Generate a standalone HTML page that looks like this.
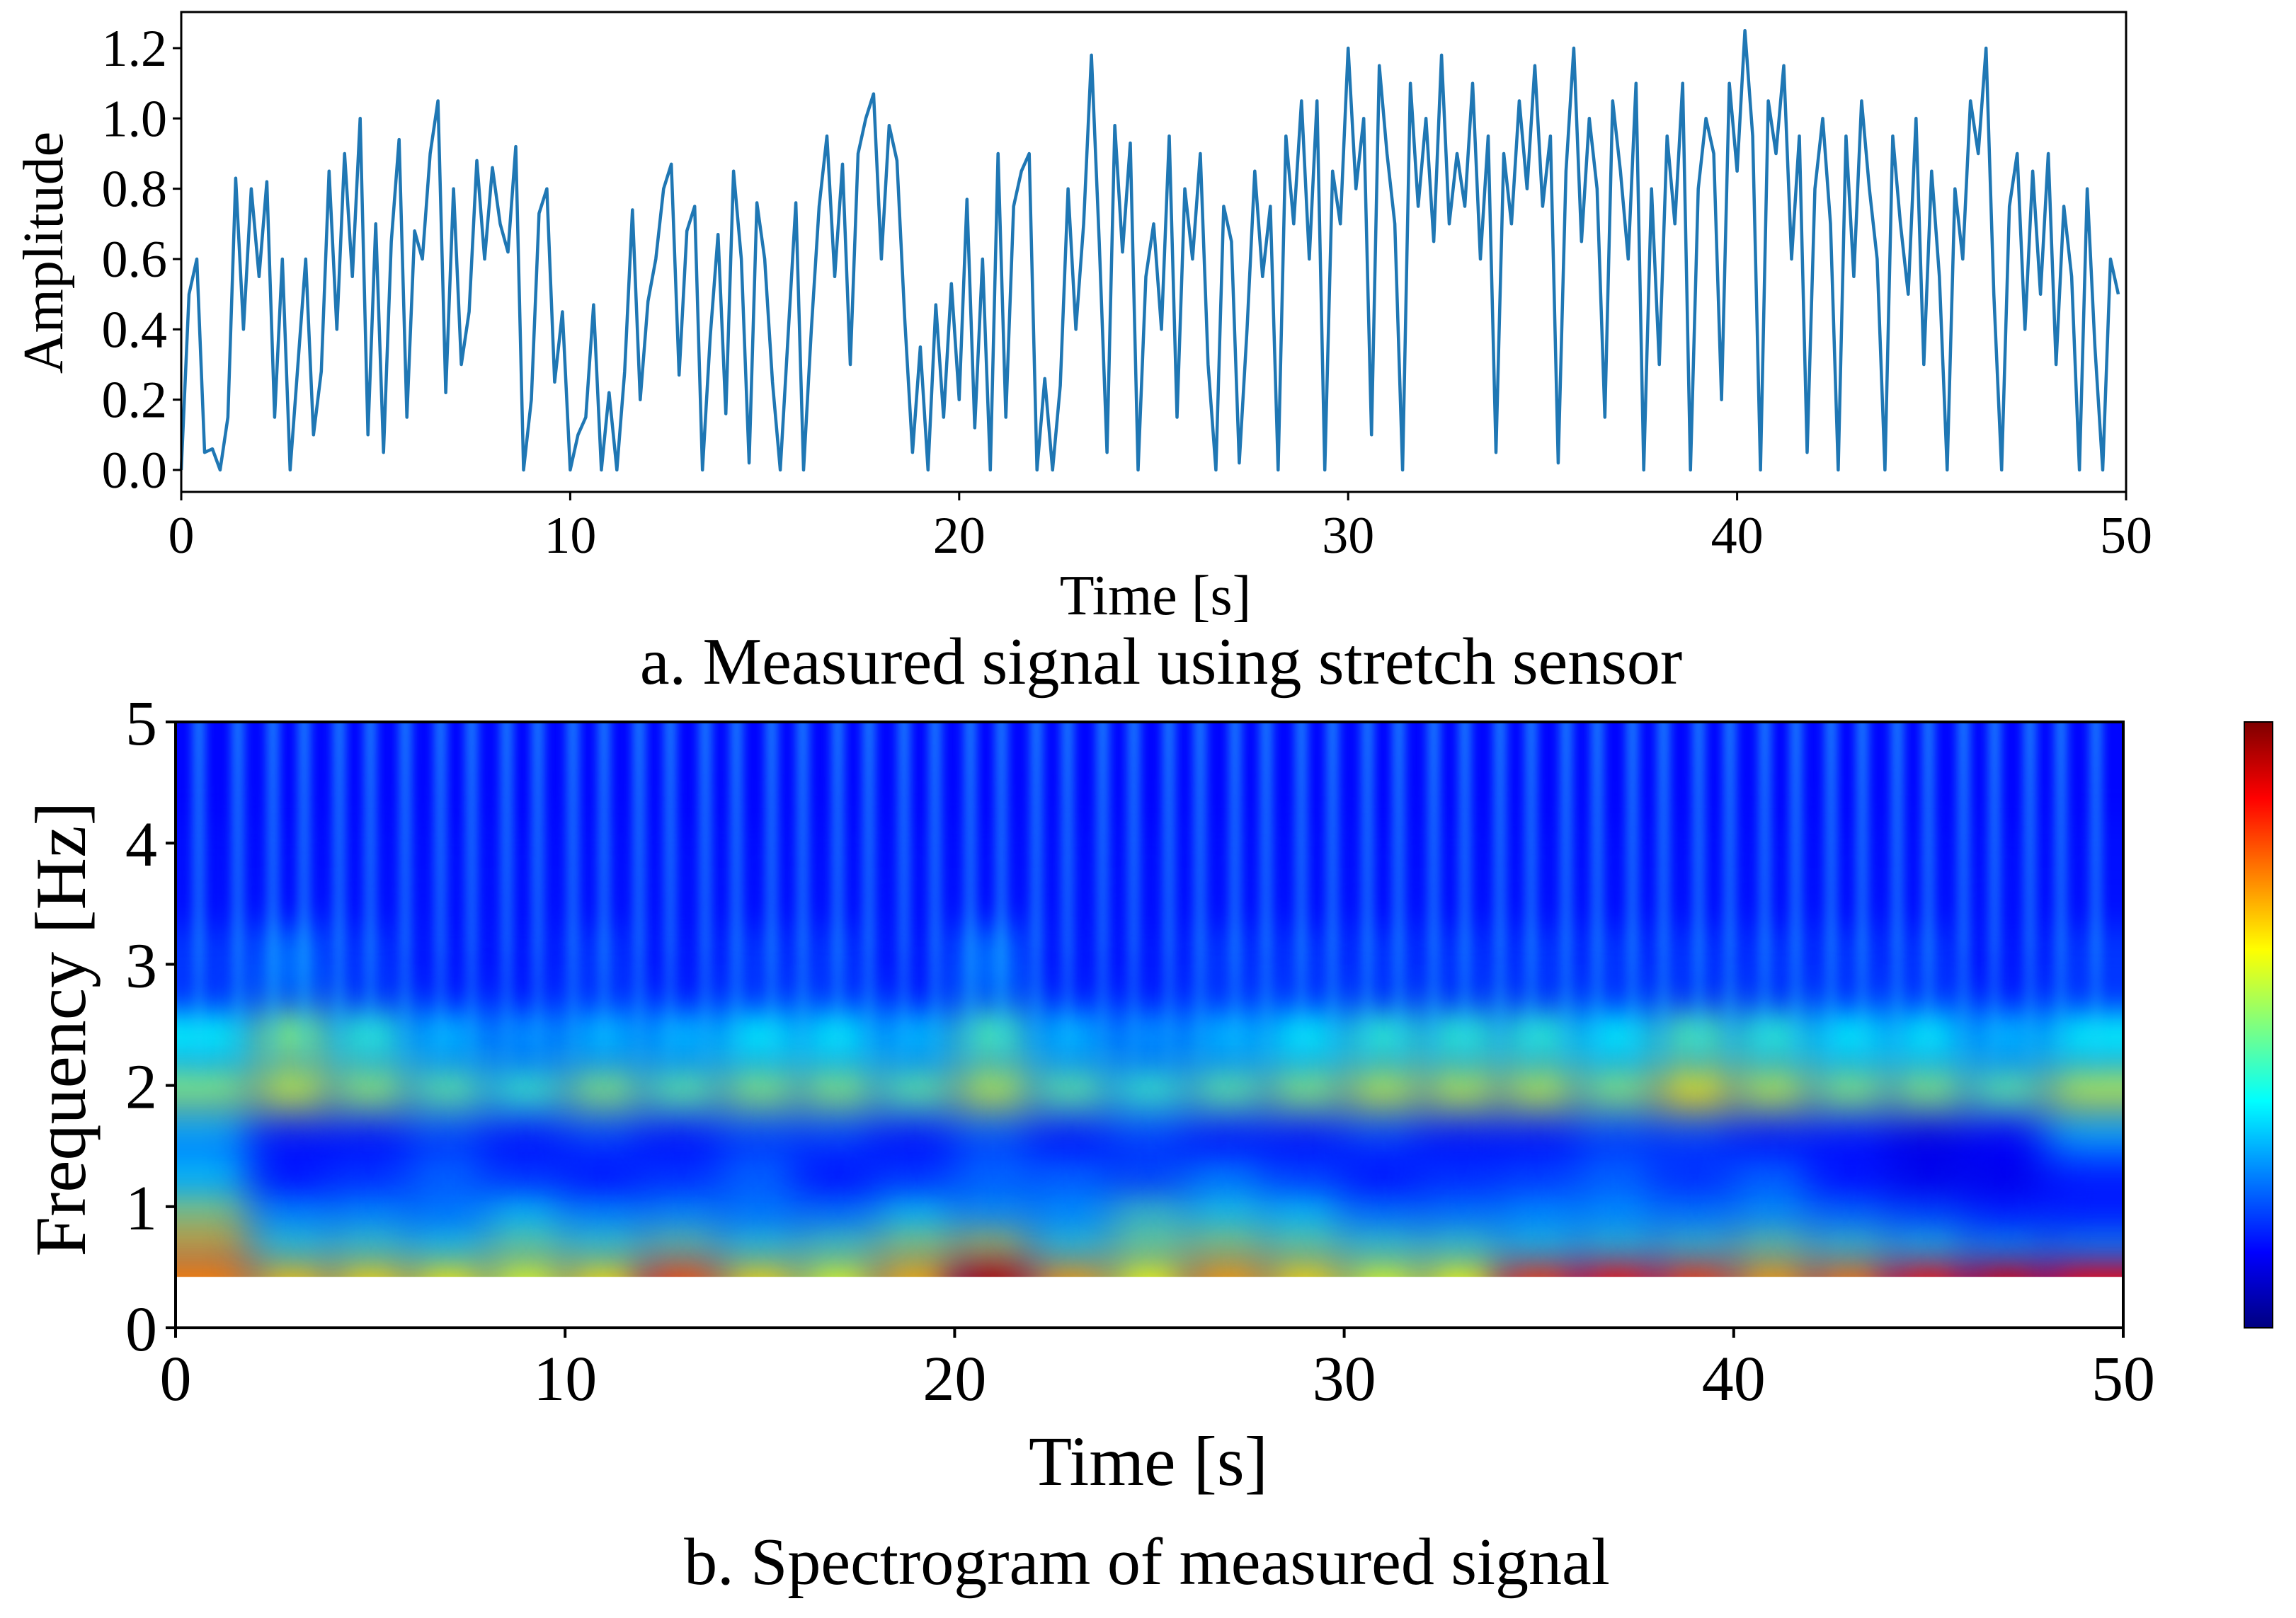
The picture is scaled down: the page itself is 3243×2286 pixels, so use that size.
<!DOCTYPE html>
<html><head><meta charset="utf-8"><style>
html,body{margin:0;padding:0;background:#fff;}
#root{position:relative;width:3243px;height:2286px;overflow:hidden;font-family:"Liberation Serif",serif;color:#000;}
svg text{font-family:"Liberation Serif",serif;}
</style></head><body>
<div id="root">
<svg id="topsvg" width="3243" height="1000" style="position:absolute;left:0;top:0"></svg>
<canvas id="spec" width="3243" height="2286" style="position:absolute;left:0;top:0"></canvas>
<svg id="botsvg" width="3243" height="2286" style="position:absolute;left:0;top:0"></svg>
</div>
<script>
// ---------- data: signal (0.2 s step) ----------
const sigStep = 0.2;
const signal = [
0,0.5,0.6,0.05,0.06, 0.0,0.15,0.83,0.4,0.8, 0.55,0.82,0.15,0.6,0.0, 0.3,0.6,0.1,0.28,0.85, 0.4,0.9,0.55,1.0,0.1,
0.7,0.05,0.65,0.94,0.15, 0.68,0.6,0.9,1.05,0.22, 0.8,0.3,0.45,0.88,0.6, 0.86,0.7,0.62,0.92,0.0, 0.2,0.73,0.8,0.25,0.45,
0.0,0.1,0.15,0.47,0.0, 0.22,0.0,0.28,0.74,0.2, 0.48,0.6,0.8,0.87,0.27, 0.68,0.75,0.0,0.38,0.67, 0.16,0.85,0.6,0.02,0.76,
0.6,0.25,0.0,0.38,0.76, 0.0,0.4,0.75,0.95,0.55, 0.87,0.3,0.9,1.0,1.07, 0.6,0.98,0.88,0.43,0.05, 0.35,0.0,0.47,0.15,0.53,
0.2,0.77,0.12,0.6,0.0, 0.9,0.15,0.75,0.85,0.9, 0.0,0.26,0.0,0.24,0.8, 0.4,0.7,1.18,0.65,0.05, 0.98,0.62,0.93,0.0,0.55,
0.7,0.4,0.95,0.15,0.8, 0.6,0.9,0.3,0.0,0.75, 0.65,0.02,0.4,0.85,0.55, 0.75,0.0,0.95,0.7,1.05, 0.6,1.05,0.0,0.85,0.7,
1.2,0.8,1.0,0.1,1.15, 0.9,0.7,0.0,1.1,0.75, 1.0,0.65,1.18,0.7,0.9, 0.75,1.1,0.6,0.95,0.05, 0.9,0.7,1.05,0.8,1.15,
0.75,0.95,0.02,0.85,1.2, 0.65,1.0,0.8,0.15,1.05, 0.85,0.6,1.1,0.0,0.8, 0.3,0.95,0.7,1.1,0.0, 0.8,1.0,0.9,0.2,1.1,
0.85,1.25,0.95,0.0,1.05, 0.9,1.15,0.6,0.95,0.05, 0.8,1.0,0.7,0.0,0.95, 0.55,1.05,0.8,0.6,0.0, 0.95,0.7,0.5,1.0,0.3,
0.85,0.55,0.0,0.8,0.6, 1.05,0.9,1.2,0.5,0.0, 0.75,0.9,0.4,0.85,0.5, 0.9,0.3,0.75,0.55,0.0, 0.8,0.35,0.0,0.6,0.5];
const topXTicks = [0,10,20,30,40,50];
const topYTicks = ["0.0","0.2","0.4","0.6","0.8","1.0","1.2"];

// ---------- data: spectrogram (columns every 2 s, centered at 1,3,...,49) ----------
const specTimes = [1,3,5,7,9,11,13,15,17,19,21,23,25,27,29,31,33,35,37,39,41,43,45,47,49];
const bandLo = [0.42,0.62,0.88,1.15,1.45,1.8,2.2,2.7,3.4,4.2];
const bandHi = [0.62,0.88,1.15,1.45,1.8,2.2,2.7,3.4,4.2,5.0];
const row0 = [0.75,0.68,0.66,0.64,0.6,0.65,0.8,0.66,0.6,0.7,0.95,0.72,0.62,0.72,0.66,0.6,0.62,0.82,0.86,0.82,0.72,0.76,0.86,0.9,0.88];
const row1 = [0.68,0.42,0.44,0.4,0.5,0.44,0.5,0.42,0.46,0.55,0.6,0.42,0.5,0.55,0.5,0.44,0.44,0.4,0.42,0.44,0.5,0.44,0.4,0.32,0.3];
const row2 = [0.55,0.3,0.3,0.27,0.38,0.3,0.3,0.27,0.27,0.38,0.3,0.3,0.45,0.4,0.38,0.27,0.27,0.3,0.3,0.27,0.3,0.25,0.2,0.15,0.15];
const row3 = [0.35,0.14,0.18,0.25,0.18,0.14,0.18,0.25,0.14,0.18,0.25,0.25,0.2,0.28,0.2,0.14,0.18,0.2,0.25,0.18,0.25,0.14,0.1,0.1,0.15];
const row4 = [0.3,0.15,0.15,0.2,0.15,0.2,0.15,0.2,0.2,0.15,0.22,0.15,0.2,0.15,0.15,0.2,0.15,0.15,0.2,0.2,0.15,0.15,0.1,0.12,0.3];
const row5 = [0.52,0.58,0.53,0.48,0.44,0.52,0.48,0.52,0.52,0.48,0.57,0.48,0.44,0.48,0.52,0.57,0.57,0.57,0.52,0.63,0.57,0.52,0.52,0.48,0.57];
const row6 = [0.38,0.5,0.42,0.32,0.28,0.32,0.32,0.38,0.38,0.32,0.45,0.32,0.28,0.32,0.38,0.42,0.42,0.42,0.38,0.45,0.42,0.38,0.38,0.32,0.38];
const row7 = [0.18,0.24,0.18,0.15,0.15,0.18,0.15,0.18,0.18,0.15,0.24,0.15,0.15,0.18,0.18,0.18,0.18,0.18,0.18,0.18,0.18,0.18,0.18,0.15,0.18];
const row8 = [0.14,0.14,0.14,0.14,0.14,0.14,0.14,0.14,0.14,0.14,0.14,0.14,0.14,0.14,0.14,0.14,0.14,0.14,0.14,0.14,0.14,0.14,0.14,0.14,0.14];
const row9 = [0.13,0.13,0.13,0.13,0.13,0.13,0.13,0.13,0.13,0.13,0.13,0.13,0.13,0.13,0.13,0.13,0.13,0.13,0.13,0.13,0.13,0.13,0.13,0.13,0.13];
const specRows = [row0,row1,row2,row3,row4,row5,row6,row7,row8,row9];
const streakTimes = [0.6,1.6,2.5,3.3,4.2,5.0,5.9,6.8,7.6,8.5,9.3,10.2,11.0,11.9,12.7,13.6,14.4,15.3,16.1,17.0,17.8,18.7,19.5,20.4,21.2,22.1,22.9,23.8,24.6,25.5,26.3,27.2,28.0,28.9,29.7,30.6,31.4,32.3,33.1,34.0,34.8,35.7,36.5,37.4,38.2,39.1,39.9,40.8,41.6,42.5,43.3,44.2,45.0,45.9,46.7,47.6,48.4,49.3];
const botXTicks = [0,10,20,30,40,50];
const botYTicks = [0,1,2,3,4,5];

const NS = "http://www.w3.org/2000/svg";
function mk(parent, tag, attrs, text){
  const e = document.createElementNS(NS, tag);
  for (const k in attrs) e.setAttribute(k, attrs[k]);
  if (text !== undefined) e.textContent = text;
  parent.appendChild(e); return e;
}

// ---------- top chart ----------
const TA = {l:256, r:3003, t:17, b:695, y0:664, y12:68};
const tx = t => TA.l + (t/50)*(TA.r - TA.l);
const ty = v => TA.y0 + (v/1.2)*(TA.y12 - TA.y0);
const topSvg = document.getElementById('topsvg');
let pd = "";
signal.forEach((v,i)=>{ pd += (i?"L":"M") + tx(i*sigStep).toFixed(1) + "," + ty(v).toFixed(1); });
const sigLine = mk(topSvg,'path',{d:pd,fill:'none',stroke:'#1f77b4','stroke-width':4.5,'stroke-linejoin':'round'});


const frame = mk(topSvg,'rect',{x:TA.l,y:TA.t,width:TA.r-TA.l,height:TA.b-TA.t,fill:'none',stroke:'#000','stroke-width':3});


topXTicks.forEach(v=>{
  const x = tx(v);
  mk(topSvg,'line',{x1:x,x2:x,y1:TA.b,y2:TA.b+12,stroke:'#000','stroke-width':3});
  const t = mk(topSvg,'text',{x:x,y:TA.b+86,'font-size':74,'text-anchor':'middle'},String(v));
  
  
});
topYTicks.forEach(s=>{
  const y = ty(parseFloat(s));
  mk(topSvg,'line',{x1:TA.l-12,x2:TA.l,y1:y,y2:y,stroke:'#000','stroke-width':3});
  const t = mk(topSvg,'text',{x:TA.l-20,y:y+25,'font-size':74,'text-anchor':'end'},s);
  
  
});
let el = mk(topSvg,'text',{x:1632,y:868,'font-size':80,'text-anchor':'middle'},'Time [s]');


el = mk(topSvg,'text',{x:0,y:0,'font-size':80,'text-anchor':'middle',transform:'translate(88,357) rotate(-90)'},'Amplitude');


el = mk(topSvg,'text',{x:1640,y:966,'font-size':94,'text-anchor':'middle'},'a. Measured signal using stretch sensor');



// ---------- spectrogram ----------
const BA = {l:248, r:2999, t:1020, b:1876};
const bx = t => BA.l + (t/50)*(BA.r - BA.l);
const by = f => BA.b - (f/5)*(BA.b - BA.t);
function jet(v){
  const c = x => Math.max(0, Math.min(1, x));
  const r = c(1.5 - Math.abs(4*v - 3)), g = c(1.5 - Math.abs(4*v - 2)), b = c(1.5 - Math.abs(4*v - 1));
  return 'rgb(' + Math.round(r*255) + ',' + Math.round(g*255) + ',' + Math.round(b*255) + ')';
}
const cv = document.getElementById('spec');
const ctx = cv.getContext('2d');
ctx.save();
ctx.beginPath(); ctx.rect(BA.l, BA.t, BA.r-BA.l, by(0.42)-BA.t); ctx.clip();
ctx.fillStyle = jet(0.14); ctx.fillRect(BA.l, BA.t, BA.r-BA.l, BA.b-BA.t);
ctx.filter = 'blur(30px)';
const colW = bx(2) - bx(0);
specRows.forEach((row, ri)=>{
  row.forEach((v, ci)=>{
    ctx.fillStyle = jet(v);
    let x0 = bx(specTimes[ci]-1), w = colW;
    if (ci === 0) { x0 -= 80; w += 80; }
    if (ci === row.length-1) { w += 80; }
    let y0 = by(bandHi[ri]), h = by(bandLo[ri]) - y0;
    if (ri === 0) h += 80;
    if (ri === specRows.length-1) { y0 -= 80; h += 80; }
    ctx.fillRect(x0, y0, w+1, h+1);
  });
});
ctx.filter = 'blur(7px)';
streakTimes.forEach(t=>{
  const g = ctx.createLinearGradient(0, by(5), 0, by(2.0));
  g.addColorStop(0, 'rgba(40,200,255,0.6)');
  g.addColorStop(0.6, 'rgba(40,200,255,0.4)');
  g.addColorStop(1, 'rgba(40,200,255,0.0)');
  ctx.fillStyle = g;
  ctx.fillRect(bx(t)-9, by(5)-20, 18, by(2.0)-by(5)+20);
});
ctx.restore();
ctx.filter = 'none';
// colorbar
const cbX = 3170, cbW = 40;
for (let y = BA.t; y < BA.b; y++){
  ctx.fillStyle = jet((BA.b - y)/(BA.b - BA.t));
  ctx.fillRect(cbX, y, cbW, 1);
}

const botSvg = document.getElementById('botsvg');
el = mk(botSvg,'rect',{x:cbX,y:BA.t,width:cbW,height:BA.b-BA.t,fill:'none',stroke:'#000','stroke-width':2});


el = mk(botSvg,'rect',{x:BA.l,y:BA.t,width:BA.r-BA.l,height:BA.b-BA.t,fill:'none',stroke:'#000','stroke-width':4});


botXTicks.forEach(v=>{
  const x = bx(v);
  mk(botSvg,'line',{x1:x,x2:x,y1:BA.b,y2:BA.b+14,stroke:'#000','stroke-width':4});
  const t = mk(botSvg,'text',{x:x,y:BA.b+102,'font-size':90,'text-anchor':'middle'},String(v));
  
  
});
botYTicks.forEach(v=>{
  const y = by(v);
  mk(botSvg,'line',{x1:BA.l-14,x2:BA.l,y1:y,y2:y,stroke:'#000','stroke-width':4});
  const t = mk(botSvg,'text',{x:BA.l-26,y:y+32,'font-size':90,'text-anchor':'end'},String(v));
  
  
});
el = mk(botSvg,'text',{x:1622,y:2098,'font-size':100,'text-anchor':'middle'},'Time [s]');


el = mk(botSvg,'text',{x:0,y:0,'font-size':102,'text-anchor':'middle',transform:'translate(120,1454) rotate(-90)'},'Frequency [Hz]');


el = mk(botSvg,'text',{x:1620,y:2238,'font-size':94,'text-anchor':'middle'},'b. Spectrogram of measured signal');


</script>
</body></html>
